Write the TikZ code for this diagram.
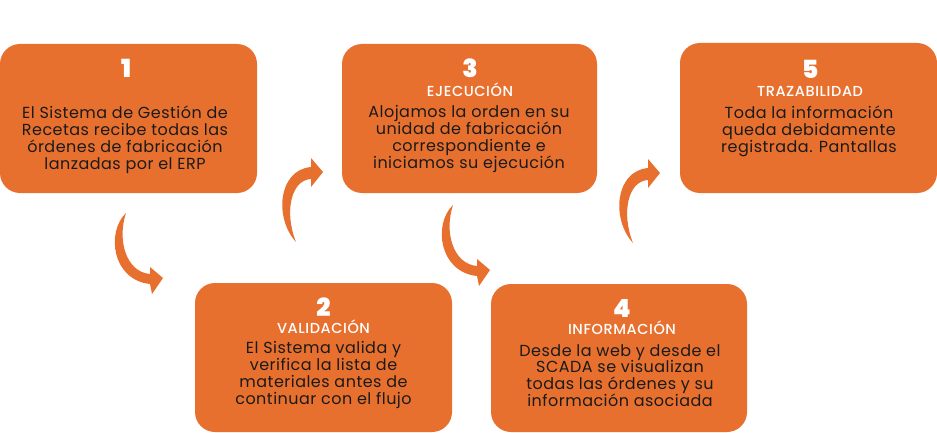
\documentclass[tikz,border=0pt]{standalone}
\usepackage{fontspec}
\setmainfont{Poppins}
\newfontfamily\numfont{Poppins Black}
\newfontfamily\headfont{Poppins Medium}[LetterSpace=4]
\newfontfamily\bodyfont{Poppins}[LetterSpace=3]
\definecolor{orng}{HTML}{E8702F}
\definecolor{txt}{HTML}{1A1A1A}
\tikzset{
  box/.style={fill=orng, draw=none, rounded corners=20pt, inner sep=0pt},
  numtxt/.style={text=white, inner sep=0pt, anchor=base, font=\numfont\fontsize{25}{25}\selectfont},
  headtxt/.style={text=white, inner sep=0pt, anchor=base, font=\headfont\fontsize{14.5}{14.5}\selectfont},
  bodytxt/.style={text=txt, inner sep=0pt, align=center, font=\bodyfont\fontsize{16}{16.9}\selectfont},
  uparrow/.pic={
    \fill[orng] (0,0) .. controls (-22,-24) and (-18,-72) .. (15,-75)
      -- (15,-84) -- (27,-70) -- (15,-55) -- (15,-63)
      .. controls (-5,-62) and (-12,-30) .. (0,0) -- cycle;
  },
  downarrow/.pic={
    \fill[orng] (0,0) .. controls (-20,19) and (-14,67) .. (24,71)
      -- (26,81) -- (37,65) -- (24,54) -- (24,61)
      .. controls (0,59) and (-9,27) .. (0,0) -- cycle;
  }
}
\begin{document}
\begin{tikzpicture}[x=1pt,y=-1pt]
\useasboundingbox (0,0) rectangle (937,433);
\fill[white] (0,0) rectangle (937,433);
% boxes
\node[box, minimum width=257pt, minimum height=149pt] (b1) at (128.5,118.5) {};
\node[box, minimum width=255pt, minimum height=149pt] (b3) at (469.5,118.5) {};
\node[box, minimum width=257pt, minimum height=150pt] (b5) at (808.5,118) {};
\node[box, minimum width=257pt, minimum height=149pt] (b2) at (323.5,357.5) {};
\node[box, minimum width=256pt, minimum height=148pt] (b4) at (619,358) {};
% arrows
\pic (a1) at (126,213) {downarrow};
\pic (a2) at (296,242) {uparrow};
\pic (a3) at (453,205) {downarrow};
\pic (a4) at (633,243) {uparrow};
% box 1
\node[numtxt] (n1) at (126,78) {1};
\node[bodytxt] (t1) at (125,139.5) {El Sistema de Gestión de\\Recetas recibe todas las\\órdenes de fabricación\\lanzadas por el ERP};
% box 3
\node[numtxt] (n3) at (470,78) {3};
\node[headtxt] (h3) at (470,97) {EJECUCIÓN};
\node[bodytxt] (t3) at (469,139) {Alojamos la orden en su\\unidad de fabricación\\correspondiente e\\iniciamos su ejecución};
% box 5
\node[numtxt] (n5) at (810,79) {5};
\node[headtxt] (h5) at (810,97) {TRAZABILIDAD};
\node[bodytxt] (t5) at (809,131) {Toda la información\\queda debidamente\\registrada. Pantallas};
% box 2
\node[numtxt] (n2) at (323.5,316) {2};
\node[headtxt] (h2) at (323.5,333) {VALIDACIÓN};
\node[bodytxt] (t2) at (323.5,375) {El Sistema valida y\\verifica la lista de\\materiales antes de\\continuar con el flujo};
% box 4
\node[numtxt] (n4) at (622,317) {4};
\node[headtxt] (h4) at (622,334) {INFORMACIÓN};
\node[bodytxt] (t4) at (620,375.5) {Desde la web y desde el\\SCADA se visualizan\\todas las órdenes y su\\información asociada};
\end{tikzpicture}
\end{document}
